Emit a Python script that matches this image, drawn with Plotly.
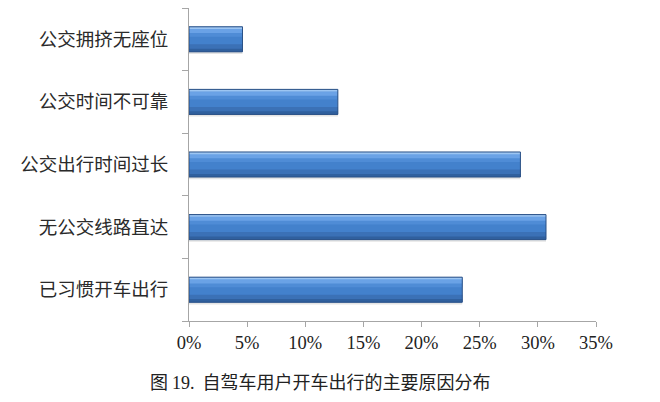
import plotly.graph_objects as go

categories = ["已习惯开车出行", "无公交线路直达", "公交出行时间过长", "公交时间不可靠", "公交拥挤无座位"]
values = [23.5, 30.7, 28.5, 12.8, 4.6]
x_ticks = [0, 5, 10, 15, 20, 25, 30, 35]
x_tick_labels = ["0%", "5%", "10%", "15%", "20%", "25%", "30%", "35%"]
caption = ("图 <span style='font-family:Liberation Serif'>19.</span>&nbsp;&nbsp;"
           "自驾车用户开车出行的主要原因分布")

# (offset, width, colour) bands that give the bars a shaded look
bands = [
    (-0.235, 0.035, "#E4E4E4"),
    (-0.2, 0.4, "#4381CC"),
    (-0.2, 0.12, "#3B71B6"),
    (-0.2, 0.05, "#30609E"),
    (0.04, 0.1, "#4F8CD6"),
    (0.1, 0.07, "#6AA2E6"),
    (0.165, 0.035, "#9CC5F2"),
]

fig = go.Figure()
for off, w, col in bands:
    fig.add_trace(go.Bar(
        y=categories, x=values, orientation="h", width=w, offset=off,
        marker=dict(color=col, line=dict(width=0)),
        hoverinfo="skip", showlegend=False,
    ))
# outline on top
fig.add_trace(go.Bar(
    y=categories, x=values, orientation="h", width=0.4, offset=-0.2,
    marker=dict(color="rgba(0,0,0,0)", line=dict(color="#2B5186", width=1)),
    hoverinfo="skip", showlegend=False,
))

fig.update_layout(
    width=652, height=394,
    margin=dict(l=181, r=64, t=0, b=81),
    paper_bgcolor="white", plot_bgcolor="white",
    barmode="overlay",
    font=dict(family="Noto Sans CJK SC", color="#222222"),
    xaxis=dict(
        range=[0, 35], tickvals=x_ticks, ticktext=x_tick_labels,
        showgrid=False, zeroline=False, showline=True, linecolor="#A6A6A6", linewidth=1,
        ticks="outside", ticklen=5, tickcolor="#A6A6A6",
        tickfont=dict(family="Liberation Serif", size=18.5, color="#222222"),
        fixedrange=True, automargin=False,
    ),
    yaxis=dict(
        categoryorder="array", categoryarray=categories,
        showgrid=False, zeroline=False, showline=True, linecolor="#A6A6A6", linewidth=1,
        ticks="outside", ticklen=6, tickcolor="#A6A6A6", tickson="boundaries",
        tickfont=dict(family="Noto Sans CJK SC", size=18.5, color="#2A2A2A"),
        ticklabelstandoff=16,
        fixedrange=True, automargin=False,
    ),
    annotations=[dict(
        text=caption, xref="paper", yref="paper", x=-0.1007, y=-0.1917,
        xanchor="left", yanchor="middle", showarrow=False,
        font=dict(family="Noto Sans CJK SC", size=18, color="#222222"),
    )],
)

fig.write_html("out.html")
